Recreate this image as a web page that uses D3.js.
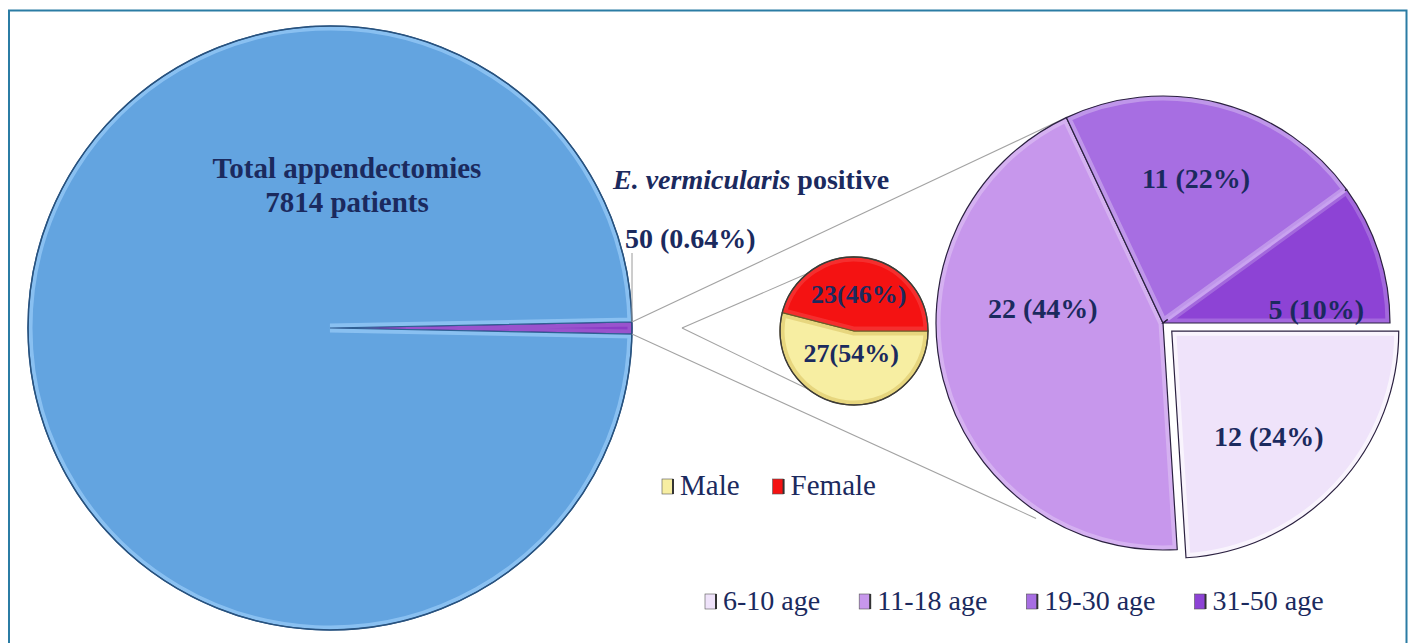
<!DOCTYPE html>
<html>
<head>
<meta charset="utf-8">
<script src="https://cdn.jsdelivr.net/npm/d3@7"></script>
<style>
  html, body { margin: 0; padding: 0; background: #ffffff; }
  svg { display: block; }
</style>
</head>
<body>
<svg id="chart" width="1418" height="643"></svg>
<script>
// ---------------- DATA ----------------
const totalCats = ["E. vermicularis positive", "Other appendectomies"];
const totalValues = [50, 7764];
const totalLabelLines = ["Total appendectomies", "7814 patients"];
const positiveLabel = "50 (0.64%)";

const sexCats = ["Male", "Female"];
const sexValues = [27, 23];

const ageCats = ["6-10 age", "11-18 age", "19-30 age", "31-50 age"];
const ageValues = [12, 22, 11, 5];

// ---------------- STYLE / LAYOUT ----------------
const textColor = "#1b2a5e";
const serif = "'Liberation Serif', 'Times New Roman', serif";
const totalColors = ["#8b3cc6", "#63a4e0"];
const sexColors = {"Male": "#f7eea2", "Female": "#f41212"};
const ageColors = ["#efe3fa", "#c797ec", "#a76ee2", "#8d43d5"];

const svg = d3.select("#chart");
const defs = svg.append("defs");
const deg = Math.PI / 180;

// frame
svg.append("path")
  .attr("d", "M9,650 L9,10.5 L1406.5,10.5 L1406.5,650")
  .attr("fill", "none").attr("stroke", "#2b7ca4").attr("stroke-width", 2);

const big = {cx: 330, cy: 328, r: 302};
const small = {cx: 854, cy: 331, r: 74};
const right = {cx: 1163, cy: 323, r: 227};

let clipId = 0;
function drawSlice(g, arcGen, d, fill, outline, bevel) {
  const p = arcGen(d);
  const id = "clip" + (clipId++);
  defs.append("clipPath").attr("id", id).append("path").attr("d", p);
  g.append("path").attr("d", p).attr("fill", fill);
  g.append("path").attr("d", p).attr("fill", "none")
    .attr("stroke", bevel).attr("stroke-width", 9)
    .attr("clip-path", `url(#${id})`);
  g.append("path").attr("d", p).attr("fill", "none")
    .attr("stroke", outline).attr("stroke-width", 1.2);
}

// ---------- big pie ----------
const totalSum = d3.sum(totalValues);
const half = totalValues[0] / totalSum * Math.PI;
const totalPie = d3.pie().sort(null)
  .startAngle(Math.PI / 2 - half).endAngle(Math.PI / 2 - half + 2 * Math.PI);
const bigArc = d3.arc().innerRadius(0).outerRadius(big.r);
const gBig = svg.append("g").attr("transform", `translate(${big.cx},${big.cy})`);
totalPie(totalValues).forEach((d, i) => {
  drawSlice(gBig, bigArc, d, totalColors[i],
    i === 0 ? "#5a2390" : "#2f5f93",
    i === 0 ? "rgba(255,255,255,0.12)" : "rgba(170,215,255,0.55)");
});
gBig.append("circle").attr("r", big.r).attr("fill", "none")
  .attr("stroke", "#28527e").attr("stroke-width", 1.5);

const bigText = svg.append("text")
  .attr("x", 347).attr("y", 178)
  .attr("text-anchor", "middle")
  .attr("font-family", serif).attr("font-weight", "bold")
  .attr("font-size", 29).attr("fill", textColor);
totalLabelLines.forEach((t, i) => {
  bigText.append("tspan").attr("x", 347).attr("dy", i === 0 ? 0 : 34).text(t);
});

// tip points of the positive slice
const tipTop = [big.cx + big.r * Math.sin(Math.PI / 2 - half), big.cy - big.r * Math.cos(Math.PI / 2 - half)];
const tipBot = [big.cx + big.r * Math.sin(Math.PI / 2 + half), big.cy - big.r * Math.cos(Math.PI / 2 + half)];

// leader for positive label
svg.append("line")
  .attr("x1", big.cx + big.r).attr("x2", big.cx + big.r)
  .attr("y1", 253).attr("y2", tipTop[1])
  .attr("stroke", "#9a9a9a").attr("stroke-width", 1);

const evText = svg.append("text")
  .attr("x", 613).attr("y", 189)
  .attr("font-family", serif).attr("font-weight", "bold")
  .attr("font-size", 28).attr("fill", textColor);
evText.append("tspan").attr("font-style", "italic").text("E. vermicularis");
evText.append("tspan").text(" positive");

svg.append("text")
  .attr("x", 625).attr("y", 248)
  .attr("font-family", serif).attr("font-weight", "bold")
  .attr("font-size", 28).attr("fill", textColor)
  .text(positiveLabel);

// ---------- connector lines ----------
function polar(c, angDeg, r) {
  return [c.cx + r * Math.sin(angDeg * deg), c.cy - r * Math.cos(angDeg * deg)];
}
const agePie = d3.pie().sort(null).startAngle(Math.PI / 2).endAngle(Math.PI / 2 + 2 * Math.PI);
const ageArcs = agePie(ageValues);
const rightTop = polar(right, ageArcs[1].endAngle / deg, right.r);
const rightBot = polar(right, 213, right.r + 6);
const connColor = "#a3a3a3";
svg.append("line").attr("x1", tipTop[0]).attr("y1", tipTop[1])
  .attr("x2", rightTop[0]).attr("y2", rightTop[1])
  .attr("stroke", connColor).attr("stroke-width", 1.1);
svg.append("line").attr("x1", tipBot[0]).attr("y1", tipBot[1])
  .attr("x2", rightBot[0]).attr("y2", rightBot[1])
  .attr("stroke", connColor).attr("stroke-width", 1.1);

const apex = [small.cx - 172, small.cy - 3];
const sTop = polar(small, 321, small.r);
const sBot = polar(small, 218, small.r);
svg.append("line").attr("x1", apex[0]).attr("y1", apex[1])
  .attr("x2", sTop[0]).attr("y2", sTop[1])
  .attr("stroke", connColor).attr("stroke-width", 1.1);
svg.append("line").attr("x1", apex[0]).attr("y1", apex[1])
  .attr("x2", sBot[0]).attr("y2", sBot[1])
  .attr("stroke", connColor).attr("stroke-width", 1.1);

// ---------- small pie (sex) ----------
const sexPie = d3.pie().sort(null).startAngle(Math.PI / 2).endAngle(Math.PI / 2 + 2 * Math.PI);
const smallArc = d3.arc().innerRadius(0).outerRadius(small.r);
const gSmall = svg.append("g").attr("transform", `translate(${small.cx},${small.cy})`);
const sexArcs = sexPie(sexValues);
sexArcs.forEach((d, i) => {
  drawSlice(gSmall, smallArc, d, sexColors[sexCats[i]], "#6b5a2a",
    i === 0 ? "rgba(200,170,60,0.35)" : "rgba(255,255,255,0.12)");
});
gSmall.append("circle").attr("r", small.r).attr("fill", "none")
  .attr("stroke", "#3a3a3a").attr("stroke-width", 1.3);
const sexLabelR = [0.3, 0.5];
sexArcs.forEach((d, i) => {
  const a = (d.startAngle + d.endAngle) / 2;
  const rr = small.r * sexLabelR[i];
  gSmall.append("text")
    .attr("x", rr * Math.sin(a)).attr("y", -rr * Math.cos(a))
    .attr("text-anchor", "middle").attr("dominant-baseline", "central")
    .attr("font-family", serif).attr("font-weight", "bold")
    .attr("font-size", 26).attr("fill", textColor)
    .text(`${d.value}(${Math.round(d.value / d3.sum(sexValues) * 100)}%)`);
});

// ---------- right pie (age) ----------
const rightArc = d3.arc().innerRadius(0).outerRadius(right.r);
const gRight = svg.append("g").attr("transform", `translate(${right.cx},${right.cy})`);
const explode = [12, 0, 0, 0];
const ageLabelPolar = [{a: 137.3, r: 143}, {a: 276.7, r: 121}, {a: 12.9, r: 148}, {a: 84.8, r: 154}];
const ageBevel = ["rgba(255,255,255,0.6)", "rgba(255,255,255,0.25)", "rgba(255,255,255,0.28)", "rgba(255,255,255,0.2)"];
// draw order: others first, exploded one on top
[1, 2, 3, 0].forEach(i => {
  const d = ageArcs[i];
  const mid = (d.startAngle + d.endAngle) / 2;
  const g = gRight.append("g")
    .attr("transform", `translate(${explode[i] * Math.sin(mid)},${-explode[i] * Math.cos(mid)})`);
  drawSlice(g, rightArc, d, ageColors[i], "#2b2140", ageBevel[i]);
});
// light separator between 19-30 and 31-50
{
  const a = ageArcs[3].startAngle;
  gRight.append("line")
    .attr("x1", 6 * Math.sin(a)).attr("y1", -6 * Math.cos(a))
    .attr("x2", (right.r - 2) * Math.sin(a)).attr("y2", -(right.r - 2) * Math.cos(a))
    .attr("stroke", "#c9a2f0").attr("stroke-width", 3);
}
ageArcs.forEach((d, i) => {
  const mid = (d.startAngle + d.endAngle) / 2;
  const ox = explode[i] * Math.sin(mid), oy = -explode[i] * Math.cos(mid);
  const lp = ageLabelPolar[i];
  gRight.append("text")
    .attr("x", ox + lp.r * Math.sin(lp.a * deg))
    .attr("y", oy - lp.r * Math.cos(lp.a * deg))
    .attr("text-anchor", "middle").attr("dominant-baseline", "central")
    .attr("font-family", serif).attr("font-weight", "bold")
    .attr("font-size", 28).attr("fill", textColor)
    .text(`${d.value} (${Math.round(d.value / d3.sum(ageValues) * 100)}%)`);
});

// ---------- legends ----------
function legend(cats, colors, x0, y, gaps, fs) {
  const g = svg.append("g");
  let x = x0;
  cats.forEach((c, i) => {
    g.append("rect").attr("x", x).attr("y", y - 16).attr("width", 11).attr("height", 15)
      .attr("fill", colors[i]).attr("stroke", "#555").attr("stroke-width", 0.6);
    g.append("line").attr("x1", x + 11).attr("x2", x + 11).attr("y1", y - 16).attr("y2", y - 1)
      .attr("stroke", "#333").attr("stroke-width", 2);
    const t = g.append("text").attr("x", x + 18).attr("y", y)
      .attr("font-family", serif).attr("font-size", fs).attr("fill", textColor).text(c);
    x += 18 + t.node().getComputedTextLength() + gaps;
  });
}
legend(sexCats, sexCats.map(c => sexColors[c]), 662, 495, 33, 29);
legend(ageCats, ageColors, 705, 610, 39, 28);
</script>
</body>
</html>
